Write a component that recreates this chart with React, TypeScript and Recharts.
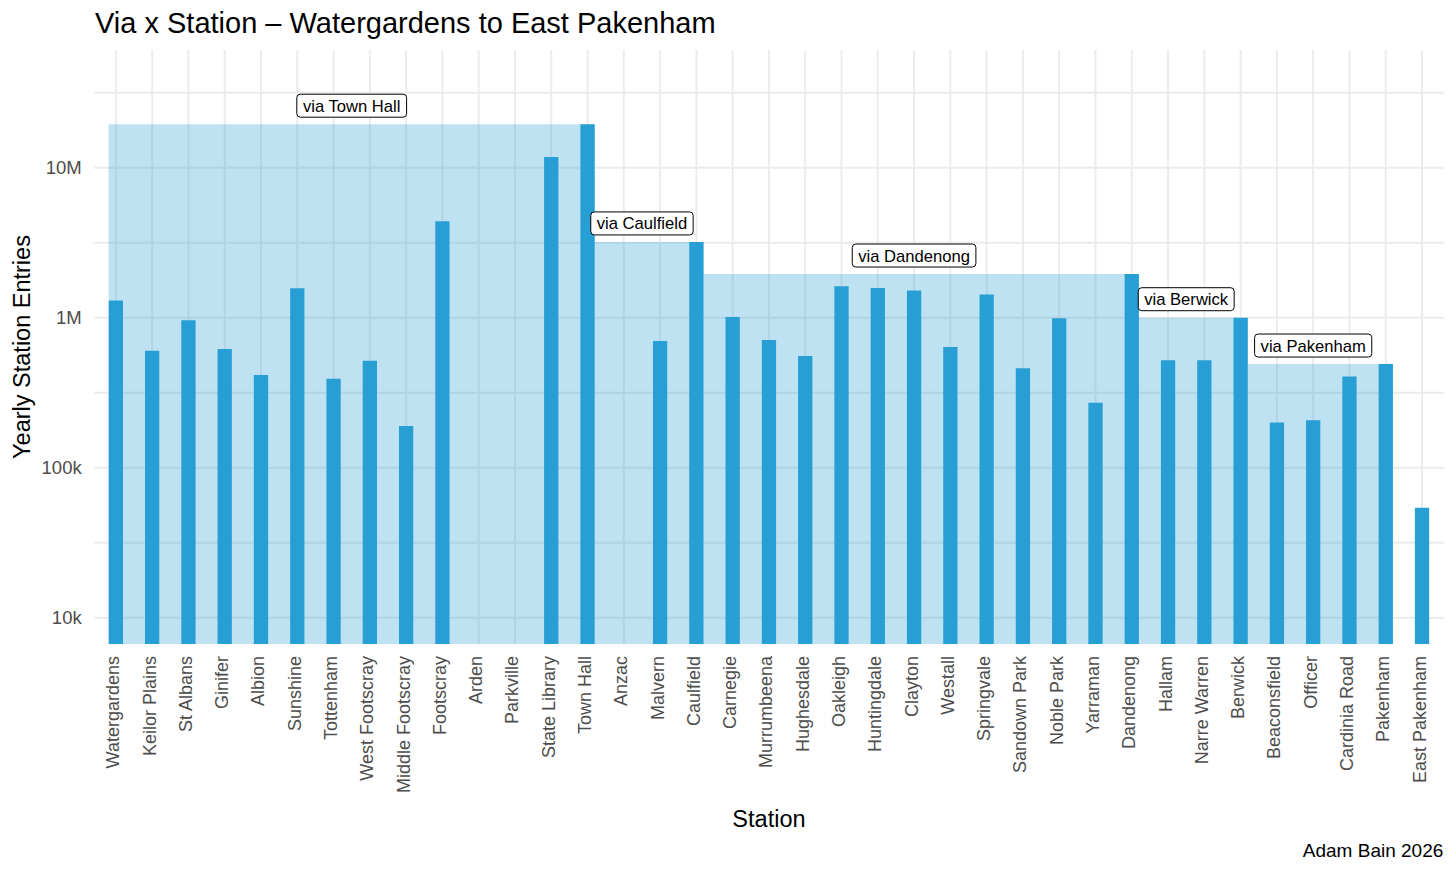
import React from 'react';
import {
  ComposedChart,
  Bar,
  XAxis,
  YAxis,
  CartesianGrid,
  ReferenceArea,
  ReferenceDot,
} from 'recharts';

// ---------- data ----------
const stations: string[] = [
  'Watergardens', 'Keilor Plains', 'St Albans', 'Ginifer', 'Albion', 'Sunshine',
  'Tottenham', 'West Footscray', 'Middle Footscray', 'Footscray', 'Arden', 'Parkville',
  'State Library', 'Town Hall', 'Anzac', 'Malvern', 'Caulfield', 'Carnegie',
  'Murrumbeena', 'Hughesdale', 'Oakleigh', 'Huntingdale', 'Clayton', 'Westall',
  'Springvale', 'Sandown Park', 'Noble Park', 'Yarraman', 'Dandenong', 'Hallam',
  'Narre Warren', 'Berwick', 'Beaconsfield', 'Officer', 'Cardinia Road', 'Pakenham',
  'East Pakenham',
];

const entries: (number | null)[] = [
  1300000, 603000, 961000, 618000, 415000, 1570000,
  392000, 517000, 190000, 4390000, null, null,
  11800000, 19500000, null, 700000, 3200000, 1010000,
  710000, 556000, 1620000, 1580000, 1520000, 638000,
  1430000, 460000, 991000, 271000, 1955000, 520000,
  520000, 1000000, 200000, 207000, 406000, 491000,
  54100,
];

const viaLabels: string[] = ['via Town Hall', 'via Caulfield', 'via Dandenong', 'via Berwick', 'via Pakenham'];
const viaFrom: string[] = ['Watergardens', 'Town Hall', 'Caulfield', 'Dandenong', 'Berwick'];
const viaTo: string[] = ['Town Hall', 'Caulfield', 'Dandenong', 'Berwick', 'Pakenham'];

const yMajorTicks: number[] = [10000, 100000, 1000000, 10000000];
const yMajorLabels: string[] = ['10k', '100k', '1M', '10M'];
const yMinorTicks: number[] = [31623, 316228, 3162278, 31622777];

// ---------- derived ----------
const Y_DOMAIN: [number, number] = [6680, 60900000];
const chartData = stations.map((name, i) => ({ idx: i, name, value: entries[i] }));
const idxOf = (s: string) => stations.indexOf(s);
const BAR_FRAC = 0.4;
const HW = BAR_FRAC / 2;

const regions = viaLabels.map((label, i) => {
  const a = idxOf(viaFrom[i]);
  const b = idxOf(viaTo[i]);
  return {
    label,
    x1: i === 0 ? a - HW : a + HW,
    x2: b + HW,
    top: entries[b] as number,
    mid: (a + b) / 2,
  };
});

const yTicks = [...yMajorTicks, ...yMinorTicks].sort((a, b) => a - b);
const fmtY = (v: number) => {
  const k = yMajorTicks.indexOf(v);
  return k >= 0 ? yMajorLabels[k] : '';
};

// ---------- layout ----------
const W = 1440;
const H = 858;
const PLOT_LEFT = 86.1;
const PLOT_RIGHT = 1435.8;
const PLOT_TOP = 42;
const PLOT_BOTTOM = 636;
const X_DOMAIN: [number, number] = [-0.6, stations.length - 1 + 0.6];
const UNIT_PX = (PLOT_RIGHT - PLOT_LEFT) / (X_DOMAIN[1] - X_DOMAIN[0]);
const BAR_SIZE = UNIT_PX - 2 * Math.round((UNIT_PX - UNIT_PX * BAR_FRAC) / 2);

const FONT = '"Liberation Sans", Arimo, Arial, sans-serif';
const BLUE = '#279FD5';
const GRID = '#EBEBEB';
const TICK_COL = '#4D4D4D';

let measureCtx: CanvasRenderingContext2D | null = null;
const measure = (text: string, size: number) => {
  if (!measureCtx) {
    const c = document.createElement('canvas');
    measureCtx = c.getContext('2d');
  }
  if (!measureCtx) return text.length * size * 0.5;
  measureCtx.font = `${size}px "Liberation Sans", Arial, sans-serif`;
  return measureCtx.measureText(text).width;
};

const XTick = (props: any) => {
  const { x, y, payload } = props;
  const label = stations[payload.value] ?? '';
  return (
    <text
      x={x}
      y={y}
      dy={3.5}
      transform={`rotate(-90, ${x}, ${y})`}
      textAnchor="end"
      fontFamily={FONT}
      fontSize={18}
      fill={TICK_COL}
    >
      {label}
    </text>
  );
};

const YTick = (props: any) => {
  const { x, y, payload } = props;
  const label = fmtY(payload.value);
  if (!label) return <g />;
  return (
    <text x={x} y={y} dy={6.6} textAnchor="end" fontFamily={FONT} fontSize={18.5} fill={TICK_COL}>
      {label}
    </text>
  );
};

const LABEL_FS = 16.6;
const makeLabelShape = (text: string) => (props: any) => {
  const { cx, cy } = props;
  if (cx == null || cy == null) return <g />;
  const w = measure(text, LABEL_FS) + 12;
  const h = 23;
  const c = cy - 18.5;
  return (
    <g>
      <rect x={cx - w / 2} y={c - h / 2} width={w} height={h} rx={3.5} ry={3.5} fill="#fff" stroke="#000" strokeWidth={1} />
      <text x={cx} y={c} dy={6} textAnchor="middle" fontFamily={FONT} fontSize={LABEL_FS} fill="#000">
        {text}
      </text>
    </g>
  );
};

export default function App() {
  return (
    <div style={{ position: 'relative', width: W, height: H }}>
      <ComposedChart
        width={W}
        height={H}
        data={chartData}
        margin={{ top: PLOT_TOP, right: W - PLOT_RIGHT, bottom: 22, left: 0 }}
      >
        <CartesianGrid stroke={GRID} strokeWidth={1.9} syncWithTicks />
        <XAxis
          dataKey="idx"
          type="number"
          domain={X_DOMAIN}
          ticks={stations.map((_, i) => i)}
          interval={0}
          allowDataOverflow
          axisLine={false}
          tickLine={false}
          tickSize={0}
          tickMargin={12}
          height={H - 22 - PLOT_BOTTOM}
          tick={<XTick />}
        />
        <YAxis
          type="number"
          scale="log"
          domain={Y_DOMAIN}
          allowDataOverflow
          ticks={yTicks}
          interval={0}
          axisLine={false}
          tickLine={false}
          tickSize={0}
          tickMargin={12.4}
          width={PLOT_LEFT}
          tick={<YTick />}
        />
        {regions.map((r) => (
          <ReferenceArea
            key={r.label}
            x1={r.x1}
            x2={r.x2}
            y1={Y_DOMAIN[0]}
            y2={r.top}
            fill={BLUE}
            fillOpacity={0.3}
            stroke="none"
            ifOverflow="visible"
          />
        ))}
        <Bar dataKey="value" fill={BLUE} barSize={BAR_SIZE} isAnimationActive={false} />
        {regions.map((r) => (
          <ReferenceDot
            key={'lbl-' + r.label}
            x={r.mid}
            y={r.top}
            r={0}
            ifOverflow="visible"
            shape={makeLabelShape(r.label)}
          />
        ))}
      </ComposedChart>
      <svg
        width={W}
        height={H}
        style={{ position: 'absolute', left: 0, top: 0, pointerEvents: 'none' }}
      >
        <text x={87} y={25} fontFamily={FONT} fontSize={29} fill="#000">
          Via x Station – Watergardens to East Pakenham
        </text>
        <text
          x={22}
          y={339}
          transform="rotate(-90, 22, 339)"
          textAnchor="middle"
          fontFamily={FONT}
          fontSize={23.5}
          fill="#000"
        >
          Yearly Station Entries
        </text>
        <text x={(PLOT_LEFT + PLOT_RIGHT) / 2} y={818.7} textAnchor="middle" fontFamily={FONT} fontSize={23.5} fill="#000">
          Station
        </text>
        <text x={1435.3} y={849} textAnchor="end" fontFamily={FONT} fontSize={19} fill="#000">
          Adam Bain 2026
        </text>
      </svg>
    </div>
  );
}
